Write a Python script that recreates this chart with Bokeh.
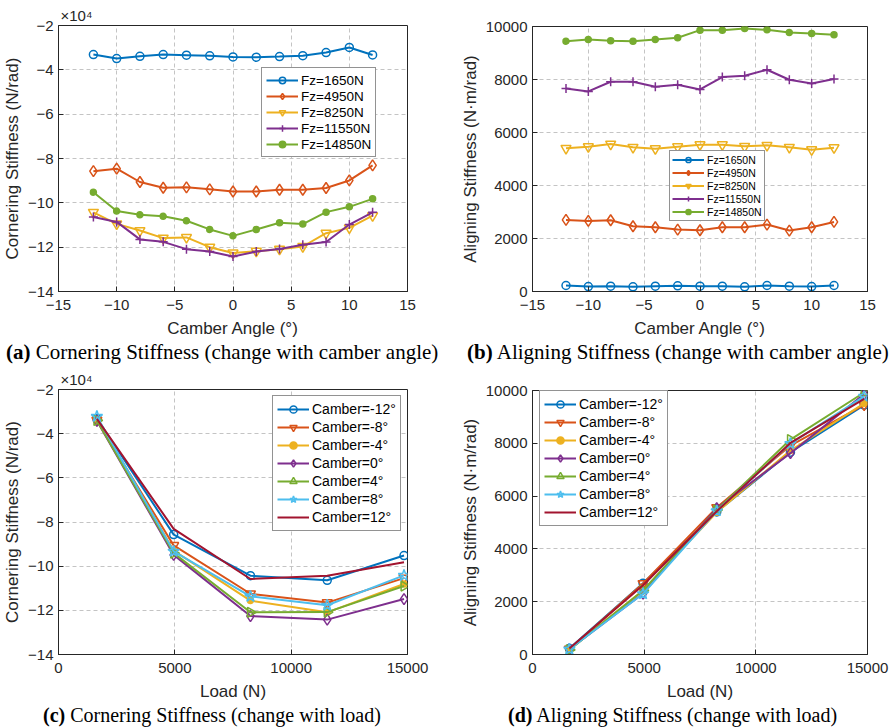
import math
from bokeh.plotting import figure
from bokeh.layouts import column, row
from bokeh.models import (Legend, LegendItem, FixedTicker, Range1d, BasicTickFormatter, Div)
from bokeh.embed import file_html
from bokeh.resources import INLINE

# ---------------- data ----------------
camber = [-12, -10, -8, -6, -4, -2, 0, 2, 4, 6, 8, 10, 12]
loads = [1650, 4950, 8250, 11550, 14850]
fz_labels = ["Fz=1650N", "Fz=4950N", "Fz=8250N", "Fz=11550N", "Fz=14850N"]

# Cornering stiffness (x 10^4 N/rad) vs camber, one list per load
cs_1650 = [-3.31, -3.49, -3.39, -3.31, -3.34, -3.37, -3.42, -3.43, -3.40, -3.36, -3.22, -2.99, -3.33]
cs_4950 = [-8.57, -8.46, -9.06, -9.32, -9.30, -9.39, -9.49, -9.49, -9.41, -9.41, -9.33, -8.99, -8.31]
cs_8250 = [-10.43, -10.95, -11.25, -11.59, -11.56, -12.00, -12.26, -12.18, -12.09, -11.97, -11.37, -11.13, -10.58]
cs_11550 = [-10.64, -10.86, -11.65, -11.76, -12.09, -12.20, -12.42, -12.20, -12.08, -11.89, -11.77, -10.98, -10.43]
cs_14850 = [-9.52, -10.37, -10.54, -10.61, -10.81, -11.20, -11.49, -11.20, -10.90, -10.96, -10.42, -10.18, -9.82]

# Aligning stiffness (N*m/rad) vs camber, one list per load
as_1650 = [226, 188, 200, 176, 200, 214, 200, 200, 176, 226, 200, 188, 226]
as_4950 = [2700, 2663, 2688, 2462, 2425, 2337, 2312, 2425, 2425, 2525, 2299, 2425, 2626]
as_8250 = [5402, 5465, 5565, 5440, 5390, 5465, 5540, 5540, 5477, 5515, 5440, 5352, 5427]
as_11550 = [7663, 7550, 7915, 7915, 7726, 7802, 7626, 8090, 8141, 8367, 7990, 7852, 8015]
as_14850 = [9447, 9510, 9460, 9447, 9510, 9573, 9862, 9862, 9925, 9874, 9774, 9736, 9686]

# cambers shown in the load plots
camber_sel = [-12, -8, -4, 0, 4, 8, 12]
camber_labels = ["Camber=-12°", "Camber=-8°", "Camber=-4°", "Camber=0°",
                 "Camber=4°", "Camber=8°", "Camber=12°"]

captions = [("(a)", "Cornering Stiffness (change with camber angle)"),
            ("(b)", "Aligning Stiffness (change with camber angle)"),
            ("(c)", "Cornering Stiffness (change with load)"),
            ("(d)", "Aligning Stiffness (change with load)")]

cs_by_load = [cs_1650, cs_4950, cs_8250, cs_11550, cs_14850]
as_by_load = [as_1650, as_4950, as_8250, as_11550, as_14850]

COLORS = ["#0072BD", "#D95319", "#EDB120", "#7E2F8E", "#77AC30", "#4DBEEE", "#A2142F"]
AX = "#262626"
SANS = "Liberation Sans"
SERIF = "Liberation Serif"

# marker specs: (marker, size, filled, angle)
MK_A = [("circle", 8, False, 0), ("diamond", 11, False, 0), ("inverted_triangle", 10, False, 0),
        ("cross", 9, False, 0), ("circle", 6, True, 0)]
MK_C = [("circle", 8, False, 0), ("inverted_triangle", 10, False, 0), ("circle", 6, True, 0),
        ("diamond", 11, False, 0), ("triangle", 10, False, -math.pi / 2), ("star", 12, False, 0),
        (None, 0, False, 0)]


def make_fig(height, left, right, top, bottom, xr, yr, xt, yt, xlabel, ylabel, exponent=False):
    p = figure(width=445, height=height, output_backend="svg", toolbar_location=None,
               x_range=Range1d(*xr), y_range=Range1d(*yr),
               min_border_left=left, min_border_right=right,
               min_border_top=top, min_border_bottom=bottom)
    p.background_fill_color = "white"
    p.border_fill_color = "white"
    p.outline_line_color = AX
    p.outline_line_width = 1
    for ax, ticks, lab in ((p.xaxis[0], xt, xlabel), (p.yaxis[0], yt, ylabel)):
        ax.ticker = FixedTicker(ticks=ticks)
        ax.formatter = BasicTickFormatter(use_scientific=False)
        ax.axis_label = lab
        ax.axis_label_text_font = SANS
        ax.axis_label_text_font_style = "normal"
        ax.axis_label_text_font_size = "17px"
        ax.axis_label_text_color = AX
        ax.major_label_text_font = SANS
        ax.major_label_text_font_size = "15px"
        ax.major_label_text_color = AX
        ax.major_tick_in = 5
        ax.major_tick_out = 0
        ax.minor_tick_in = 0
        ax.minor_tick_out = 0
        ax.axis_line_color = AX
        ax.major_tick_line_color = AX
    p.xaxis.major_label_standoff = 8
    p.xaxis.axis_label_standoff = 6
    p.yaxis.major_label_standoff = 5
    p.yaxis.axis_label_standoff = 3
    for g, ticks in ((p.xgrid[0], xt), (p.ygrid[0], yt)):
        g.ticker = FixedTicker(ticks=ticks)
        g.grid_line_color = "#c4c4c4"
        g.grid_line_dash = "4 3"
        g.grid_line_width = 1
    if exponent:
        p.title.text = "×10⁴"
        p.title.align = "left"
        p.title.offset = 2
        p.title.standoff = 3
        p.title.text_font = SANS
        p.title.text_font_size = "15px"
        p.title.text_font_style = "normal"
        p.title.text_color = AX
    return p


def add_series(p, xs, ys, color, mk):
    rs = [p.line(xs, ys, line_color=color, line_width=2)]
    marker, size, filled, angle = mk
    if marker is not None:
        rs.append(p.scatter(xs, ys, marker=marker, size=size, angle=angle,
                            line_color=color, line_width=1.5,
                            fill_color=color, fill_alpha=1.0 if filled else 0.0))
    return rs


def make_legend(items, loc, font, gw, gh, pad):
    return Legend(items=items, location=loc, spacing=0, margin=0, padding=pad,
                  label_text_font=SANS, label_text_font_size=font, label_text_color="black",
                  glyph_width=gw, glyph_height=gh, label_height=gh, label_standoff=3,
                  border_line_color=AX, border_line_width=1, background_fill_alpha=1.0)


def make_caption(height, x0, line_h, font_px, tag, rest):
    html = ('<div style="font-family:\'Liberation Serif\',serif;font-size:%dpx;'
            'line-height:%dpx;white-space:nowrap;color:#000;padding-left:%dpx">'
            '<b>%s</b> %s</div>') % (font_px, line_h, x0, tag, rest)
    return Div(text=html, width=445, height=height, margin=(0, 0, 0, 0))


# ---------------- (a) ----------------
pa = make_fig(342, 56, 38, 25, 51, (-15, 15), (-14, -2), [-15, -10, -5, 0, 5, 10, 15],
              [-14, -12, -10, -8, -6, -4, -2], "Camber Angle (°)", "Cornering Stiffness (N/rad)",
              exponent=True)
items = []
for i, ys in enumerate(cs_by_load):
    items.append(LegendItem(label=fz_labels[i], renderers=add_series(pa, camber, ys, COLORS[i], MK_A[i])))
pa.add_layout(make_legend(items, (203, 134), "13.5px", 32, 16, 4))

# ---------------- (b) ----------------
pb = make_fig(342, 87, 23, 26, 51, (-15, 15), (0, 10000), [-15, -10, -5, 0, 5, 10, 15],
              [0, 2000, 4000, 6000, 8000, 10000], "Camber Angle (°)", "Aligning Stiffness (N·m/rad)")
items = []
for i, ys in enumerate(as_by_load):
    items.append(LegendItem(label=fz_labels[i], renderers=add_series(pb, camber, ys, COLORS[i], MK_A[i])))
pb.add_layout(make_legend(items, (137, 70), "10.5px", 32, 13, 2))

# ---------------- (c) ----------------
pc = make_fig(342, 56, 38, 25, 52, (0, 15000), (-14, -2), [0, 5000, 10000, 15000],
              [-14, -12, -10, -8, -6, -4, -2], "Load (N)", "Cornering Stiffness (N/rad)",
              exponent=True)
items = []
for j, c in enumerate(camber_sel):
    k = camber.index(c)
    ys = [cs_by_load[i][k] for i in range(len(loads))]
    items.append(LegendItem(label=camber_labels[j], renderers=add_series(pc, loads, ys, COLORS[j], MK_C[j])))
pc.add_layout(make_legend(items, (214, 123), "14px", 32, 18, 4))

# ---------------- (d) ----------------
pd_ = make_fig(342, 87, 23, 26, 52, (0, 15000), (0, 10000), [0, 5000, 10000, 15000],
               [0, 2000, 4000, 6000, 8000, 10000], "Load (N)", "Aligning Stiffness (N·m/rad)")
items = []
for j, c in enumerate(camber_sel):
    k = camber.index(c)
    ys = [as_by_load[i][k] for i in range(len(loads))]
    items.append(LegendItem(label=camber_labels[j], renderers=add_series(pd_, loads, ys, COLORS[j], MK_C[j])))
pd_.add_layout(make_legend(items, (7, 128), "14px", 32, 18, 4))

ca = make_caption(22, 6, 20, 21, *captions[0])
cb = make_caption(22, 467 - 445, 20, 21, *captions[1])
cc = make_caption(22, 43, 18, 20, *captions[2])
cd = make_caption(22, 508 - 445, 18, 20, *captions[3])

layout = column(row(column(pa, ca, spacing=0), column(pb, cb, spacing=0), spacing=0),
                row(column(pc, cc, spacing=0), column(pd_, cd, spacing=0), spacing=0),
                spacing=0)
open("out.html", "w").write(file_html(layout, INLINE))
